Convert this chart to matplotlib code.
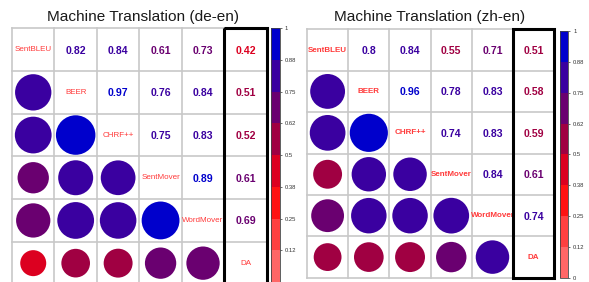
import numpy as np
import matplotlib
matplotlib.use("Agg")
import matplotlib.pyplot as plt
from matplotlib.colors import ListedColormap, Normalize
from matplotlib.cm import ScalarMappable
from matplotlib.patches import Rectangle

plt.rcParams['font.family'] = ['Liberation Sans', 'DejaVu Sans']

labels = ["SentBLEU", "BEER", "CHRF++", "SentMover", "WordMover", "DA"]

# upper-triangle rows (row i, columns i+1..5)
de_en_upper = [
    [0.82, 0.84, 0.61, 0.73, 0.42],
    [0.97, 0.76, 0.84, 0.51],
    [0.75, 0.83, 0.52],
    [0.89, 0.61],
    [0.69],
]
zh_en_upper = [
    [0.80, 0.84, 0.55, 0.71, 0.51],
    [0.96, 0.78, 0.83, 0.58],
    [0.74, 0.83, 0.59],
    [0.84, 0.61],
    [0.74],
]
titles = ["Machine Translation (de-en)", "Machine Translation (zh-en)"]

bin_colors = ["#FF6666", "#FF4040", "#FF1212", "#DC0020", "#A00042",
              "#6A0070", "#3A00A0", "#0000CC"]
cbar_ticks = [0, 0.125, 0.25, 0.375, 0.5, 0.625, 0.75, 0.875, 1]
cbar_ticklabels = ["0", "0.12", "0.25", "0.38", "0.5", "0.62", "0.75", "0.88", "1"]

W, H = 589, 282
fig = plt.figure(figsize=(W / 100, H / 100), dpi=100)


def to_matrix(upper):
    n = len(labels)
    m = np.eye(n)
    for i, row in enumerate(upper):
        for k, v in enumerate(row):
            j = i + 1 + k
            m[i, j] = v
            m[j, i] = v
    return m


def color_of(v):
    # value -> bin (corrplot-style assignment over 15 bins on [-1, 1])
    idx = int(np.floor((v + 1 / 15) * 7.5))
    idx = max(0, min(7, idx))
    return bin_colors[idx]


def fmt(v):
    return f"{v:g}"


def panel(mat, px, title, tx, cb_px, bold_diag, hide_bottom_label):
    x0, x1, yt, yb = px
    ax = fig.add_axes([x0 / W, 1 - yb / H, (x1 - x0) / W, (yb - yt) / H])
    n = len(labels)
    ax.set_xlim(0, n)
    ax.set_ylim(n, 0)
    ax.axis("off")
    cw = (x1 - x0) / n
    for k in range(n + 1):
        ax.axhline(k, color="#C8C8C8", lw=1.2, clip_on=False, zorder=1)
        ax.axvline(k, color="#C8C8C8", lw=1.2, clip_on=False, zorder=1)
    for i in range(n):
        for j in range(n):
            v = mat[i, j]
            if i == j:
                ax.text(j + 0.5, i + 0.5, labels[i], ha="center", va="center",
                        color="#FF3A3A", fontsize=5.8,
                        fontweight="bold" if bold_diag else "normal", zorder=3)
            elif j > i:
                ax.text(j + 0.5, i + 0.52, fmt(v), ha="center", va="center",
                        color=color_of(v), fontsize=7.6, fontweight="bold", zorder=3)
            else:
                d_pt = 0.945 * np.sqrt(abs(v)) * cw * 0.72
                ax.scatter([j + 0.5], [i + 0.5], s=d_pt ** 2, c=color_of(v),
                           edgecolors="none", zorder=2)
    ax.add_patch(Rectangle((n - 1, 0), 1, n, fill=False, ec="black", lw=2.2,
                           clip_on=False, zorder=4))
    fig.text(tx / W, 1 - 21 / H, title, ha="center", va="baseline",
             fontsize=11.1, color="#1a1a1a")

    cx0, cx1, cyt, cyb = cb_px
    cax = fig.add_axes([cx0 / W, 1 - cyb / H, (cx1 - cx0) / W, (cyb - cyt) / H])
    sm = ScalarMappable(norm=Normalize(0, 1), cmap=ListedColormap(bin_colors))
    cb = fig.colorbar(sm, cax=cax, ticks=cbar_ticks)
    tl = list(cbar_ticklabels)
    if hide_bottom_label:
        tl[0] = ""
    cb.ax.set_yticklabels(tl)
    cb.ax.tick_params(labelsize=4.2, length=1.5, width=0.5, pad=2,
                      colors="#333333")
    cb.outline.set_linewidth(0.6)
    cb.outline.set_edgecolor("#444444")


panel(to_matrix(de_en_upper), (12, 266.7, 28.3, 284.5), titles[0], 143,
      (271, 280, 28.3, 282), False, True)
panel(to_matrix(zh_en_upper), (307, 554.3, 29.3, 277.8), titles[1], 430,
      (559.7, 568.3, 31, 277.7), True, False)

fig.savefig("out.png", dpi=100)
